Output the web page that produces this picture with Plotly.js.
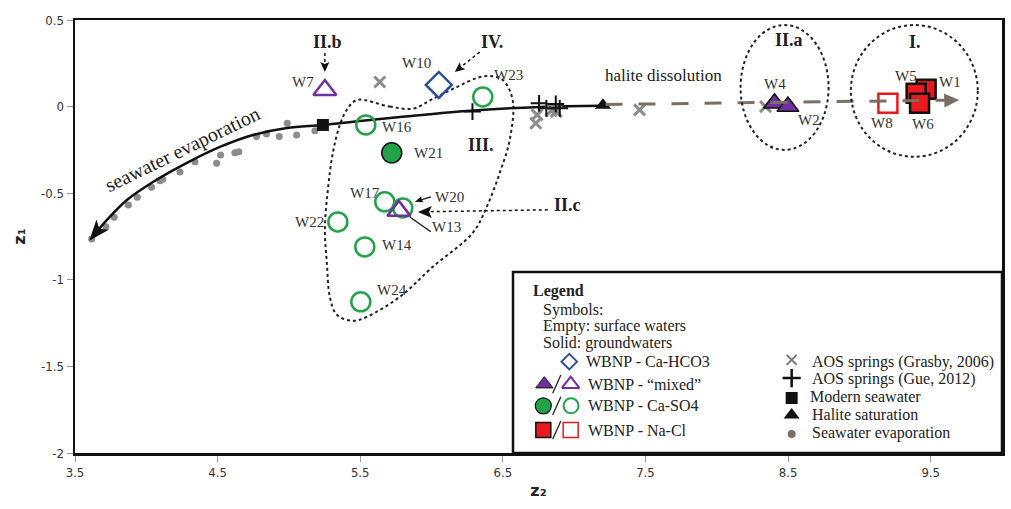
<!DOCTYPE html>
<html><head><meta charset="utf-8">
<script src="https://cdn.plot.ly/plotly-3.0.1.min.js"></script>
<style>html,body{margin:0;padding:0;background:#fff}</style>
</head><body><div id="chart" style="width:1011px;height:509px"></div>
<script>
// ---------- axis ticks ----------
const xTickVals = [3.5, 4.5, 5.5, 6.5, 7.5, 8.5, 9.5];
const xTickText = ['3.5', '4.5', '5.5', '6.5', '7.5', '8.5', '9.5'];
const yTickVals = [-2, -1.5, -1, -0.5, 0, 0.5];
const yTickText = ['-2', '-1.5', '-1', '-0.5', '0', '0.5'];

// ---------- reference series ----------
const evapDotsZ2 = [3.617, 3.717, 3.775, 3.874, 3.937, 4.037, 4.096, 4.115, 4.236, 4.341, 4.493, 4.521, 4.621, 4.649, 4.773, 4.843, 4.932, 4.988, 5.054, 5.182];
const evapDotsZ1 = [-0.765, -0.693, -0.639, -0.568, -0.523, -0.466, -0.428, -0.419, -0.377, -0.318, -0.327, -0.279, -0.266, -0.26, -0.173, -0.158, -0.173, -0.096, -0.164, -0.139];

const trendZ2 = [7.2, 6.759, 6.247, 5.778, 5.497, 5.238, 4.986, 4.747, 4.516, 4.285, 4.047, 3.864, 3.724, 3.65];
const trendZ1 = [0.005, -0.002, -0.025, -0.06, -0.083, -0.106, -0.123, -0.164, -0.233, -0.325, -0.435, -0.539, -0.654, -0.725];

const halDissZ2 = [7.22, 9.6];
const halDissZ1 = [0.012, 0.037];

const seawaterZ2 = [5.238];
const seawaterZ1 = [-0.106];
const haliteSatZ2 = [7.202];
const haliteSatZ1 = [0.008];

const grasbyZ2 = [5.637, 6.74, 6.731, 6.84, 6.875, 7.459, 8.342];
const grasbyZ1 = [0.142, -0.048, -0.096, -0.023, -0.029, -0.019, 0.0];
const gueZ2 = [6.287, 6.754, 6.805, 6.871, 6.899];
const gueZ1 = [-0.029, 0.019, -0.01, 0.015, -0.01];

// ---------- WBNP samples ----------
const caHCO3SurfNames = ['W10'];
const caHCO3SurfZ2 = [6.051];
const caHCO3SurfZ1 = [0.125];

const mixedSurfNames = ['W7', 'W13'];
const mixedSurfZ2 = [5.252, 5.771];
const mixedSurfZ1 = [0.096, -0.602];

const mixedGwNames = ['W4', 'W2'];
const mixedGwZ2 = [8.405, 8.499];
const mixedGwZ1 = [0.019, 0.0];

const caSO4SurfNames = ['W16', 'W17', 'W20', 'W22', 'W14', 'W24', 'W23'];
const caSO4SurfZ2 = [5.539, 5.672, 5.798, 5.343, 5.532, 5.504, 6.359];
const caSO4SurfZ1 = [-0.106, -0.55, -0.585, -0.666, -0.81, -1.127, 0.056];

const caSO4GwNames = ['W21'];
const caSO4GwZ2 = [5.721];
const caSO4GwZ1 = [-0.267];

const naClGwNames = ['W1', 'W5', 'W6'];
const naClGwZ2 = [9.468, 9.398, 9.422];
const naClGwZ1 = [0.1, 0.077, 0.019];

const naClSurfNames = ['W8'];
const naClSurfZ2 = [9.2];
const naClSurfZ1 = [0.019];

// ---------- group outline III (annotation geometry, data units) ----------
const groupIIIZ2 = [5.476, 5.707, 5.869, 6.009, 6.177, 6.317, 6.408, 6.499, 6.569, 6.548, 6.478, 6.387, 6.289, 6.009, 5.778, 5.546, 5.448, 5.336, 5.287, 5.266, 5.252, 5.273, 5.308, 5.357, 5.406, 5.476];
const groupIIIZ1 = [0.038, 0.0, -0.012, 0.045, 0.113, 0.165, 0.177, 0.154, 0.038, -0.192, -0.383, -0.579, -0.729, -0.925, -1.098, -1.214, -1.237, -1.202, -1.098, -0.902, -0.712, -0.481, -0.267, -0.106, -0.019, 0.038];

// ---------- styles ----------
const PURPLE = '#7030a0', GREEN = '#22a34a', RED = '#e8191f', BLUE = '#2a4f9a';
const TAUPE = '#7a7062', GREY = '#8c8c8c';
const SERIF = 'Liberation Serif, Times New Roman, serif';
const TICKFONT = 'Liberation Sans Narrow, DejaVu Sans Condensed, Arial Narrow, sans-serif';
const TITLEFONT = 'DejaVu Sans, Liberation Sans, Arial, sans-serif';

const traces = [];
function sc(x, y, marker, extra) {
  marker.opacity = 1;
  return Object.assign({type: 'scatter', mode: 'markers', x: x, y: y, marker: marker,
    hoverinfo: 'skip', showlegend: false, cliponaxis: false}, extra || {});
}
traces.push({type: 'scatter', mode: 'lines', x: groupIIIZ2, y: groupIIIZ1,
  line: {color: '#222', width: 2, dash: 'dot', shape: 'spline', smoothing: 1},
  hoverinfo: 'skip', showlegend: false});
traces.push(sc(evapDotsZ2, evapDotsZ1, {color: GREY, size: 7}));
traces.push({type: 'scatter', mode: 'lines', x: trendZ2, y: trendZ1,
  line: {color: '#111', width: 2.5, shape: 'spline'}, hoverinfo: 'skip', showlegend: false});
traces.push(sc(grasbyZ2, grasbyZ1, {symbol: 'x-thin', size: 11, line: {color: GREY, width: 3}}));
traces.push(sc(gueZ2, gueZ1, {symbol: 'cross-thin', size: 12, line: {color: '#111', width: 2}}));
traces.push(sc(seawaterZ2, seawaterZ1, {symbol: 'square', size: 12, color: '#111'}));
traces.push(sc(haliteSatZ2, haliteSatZ1, {symbol: 'triangle-up', size: 14, color: '#111'}));
traces.push(sc(mixedGwZ2, mixedGwZ1, {symbol: 'triangle-up', size: 19, color: PURPLE, line: {color: '#111', width: 1.5}}));
traces.push(sc(naClSurfZ2, naClSurfZ1, {symbol: 'square-open', size: 19, color: RED, line: {color: RED, width: 2.5}}));
traces.push(sc(naClGwZ2, naClGwZ1, {symbol: 'square', size: 19, color: RED, line: {color: '#111', width: 2.5}}));
traces.push({type: 'scatter', mode: 'lines', x: halDissZ2, y: halDissZ1,
  line: {color: TAUPE, width: 3, dash: '17px,16px'}, hoverinfo: 'skip', showlegend: false});
traces.push(sc(caHCO3SurfZ2, caHCO3SurfZ1, {symbol: 'diamond-open', size: 20, color: BLUE, line: {color: BLUE, width: 2.5}}));
traces.push(sc(caSO4SurfZ2, caSO4SurfZ1, {symbol: 'circle-open', size: 19, color: GREEN, line: {color: GREEN, width: 2.5}}));
traces.push(sc(caSO4GwZ2, caSO4GwZ1, {symbol: 'circle', size: 20, color: GREEN, line: {color: '#111', width: 1.5}}));
traces.push(sc(mixedSurfZ2, mixedSurfZ1, {symbol: 'triangle-up-open', size: 20, color: PURPLE, line: {color: PURPLE, width: 2.5}}));

// ---------- custom legend icons (overlay axes spanning 0..1 of the plot area) ----------
const legIcons = [
  {x: 0.5332, y: 0.211, s: 'diamond-open', c: BLUE, size: 12, lw: 2, lc: BLUE},
  {x: 0.5063, y: 0.159, s: 'triangle-up', c: PURPLE, size: 15, lw: 1, lc: '#111'},
  {x: 0.5347, y: 0.159, s: 'triangle-up-open', c: PURPLE, size: 15, lw: 2, lc: PURPLE},
  {x: 0.5052, y: 0.109, s: 'circle', c: GREEN, size: 16, lw: 1.2, lc: '#111'},
  {x: 0.5351, y: 0.109, s: 'circle-open', c: GREEN, size: 15, lw: 2, lc: GREEN},
  {x: 0.5052, y: 0.053, s: 'square', c: RED, size: 15, lw: 1.5, lc: '#111'},
  {x: 0.5347, y: 0.053, s: 'square-open', c: RED, size: 15, lw: 1.5, lc: RED},
  {x: 0.7731, y: 0.215, s: 'x-thin', c: '#777', size: 10, lw: 2, lc: '#777'},
  {x: 0.7731, y: 0.173, s: 'cross-thin', c: '#111', size: 13, lw: 2.5, lc: '#111'},
  {x: 0.7731, y: 0.127, s: 'square', c: '#111', size: 12, lw: 0, lc: '#111'},
  {x: 0.7731, y: 0.088, s: 'triangle-up', c: '#111', size: 14, lw: 0, lc: '#111'},
  {x: 0.7731, y: 0.044, s: 'circle', c: TAUPE, size: 8, lw: 0, lc: TAUPE}
];
traces.push({type: 'scatter', mode: 'markers', xaxis: 'x2', yaxis: 'y2',
  x: legIcons.map(d => d.x), y: legIcons.map(d => d.y),
  marker: {opacity: 1, symbol: legIcons.map(d => d.s), color: legIcons.map(d => d.c), size: legIcons.map(d => d.size),
    line: {width: legIcons.map(d => d.lw), color: legIcons.map(d => d.lc)}},
  hoverinfo: 'skip', showlegend: false, cliponaxis: false});

// ---------- annotations ----------
const ann = [];
const labelFont = {family: SERIF, size: 15, color: '#333'};
const labelPlace = {
  W7: ['right', -9, 8], W10: ['center', -22, 22], W23: ['left', 9, 22], W16: ['left', 14, -2],
  W21: ['left', 20, 0], W17: ['center', -20, 9], W20: ['left', 30, 11], W13: ['left', 31, -16],
  W22: ['right', -12, 0], W14: ['left', 15, 2], W24: ['left', 14, 12], W4: ['center', 0, 19],
  W2: ['center', 21, -13], W5: ['center', -10, 17], W1: ['center', 24, 7], W6: ['center', 3, -21],
  W8: ['center', -6, -20]
};
function addLabels(names, xs, ys) {
  names.forEach((n, i) => {
    const p = labelPlace[n];
    ann.push({x: xs[i], y: ys[i], text: n, showarrow: false, xanchor: p[0], yanchor: 'middle',
      xshift: p[1], yshift: p[2], font: labelFont});
  });
}
addLabels(caHCO3SurfNames, caHCO3SurfZ2, caHCO3SurfZ1);
addLabels(mixedSurfNames, mixedSurfZ2, mixedSurfZ1);
addLabels(mixedGwNames, mixedGwZ2, mixedGwZ1);
addLabels(caSO4SurfNames, caSO4SurfZ2, caSO4SurfZ1);
addLabels(caSO4GwNames, caSO4GwZ2, caSO4GwZ1);
addLabels(naClGwNames, naClGwZ2, naClGwZ1);
addLabels(naClSurfNames, naClSurfZ2, naClSurfZ1);

const boldFont = {family: SERIF, size: 18, color: '#222', weight: 'bold'};
[['II.b', 5.273, 0.373], ['IV.', 6.422, 0.373], ['III.', 6.345, -0.221],
 ['II.c', 6.955, -0.567], ['II.a', 8.503, 0.385], ['I.', 9.393, 0.373]]
  .forEach(a => ann.push({x: a[1], y: a[2], text: a[0], showarrow: false, font: boldFont}));

ann.push({x: 7.628, y: 0.177, text: 'halite dissolution', showarrow: false, font: {family: SERIF, size: 17, color: '#222'}});
ann.push({x: 4.255, y: -0.25, text: 'seawater evaporation', showarrow: false, textangle: -26,
  font: {family: SERIF, size: 20, color: '#222'}});

// legend texts
const LF = {family: SERIF, size: 16, color: '#222'};
[['Legend', 0.4916, 0.375, true], ['Symbols:', 0.5024, 0.330], ['Empty: surface waters', 0.5024, 0.293],
 ['Solid: groundwaters', 0.5024, 0.255], ['WBNP - Ca-HCO3', 0.5491, 0.211], ['WBNP - \u201Cmixed\u201D', 0.5512, 0.159],
 ['WBNP - Ca-SO4', 0.5512, 0.109], ['WBNP - Na-Cl', 0.5512, 0.053],
 ['AOS springs (Grasby, 2006)', 0.7929, 0.211], ['AOS springs (Gue, 2012)', 0.7929, 0.171],
 ['Modern seawater', 0.7907, 0.130], ['Halite saturation', 0.7929, 0.088], ['Seawater evaporation', 0.7929, 0.047]]
  .forEach(a => ann.push({xref: 'paper', yref: 'paper', x: a[1], y: a[2], text: a[0], showarrow: false,
    xanchor: 'left', yanchor: 'middle', font: Object.assign({}, LF, a[3] ? {weight: 'bold'} : {})}));

// ---------- shapes ----------
const shapes = [
  {type: 'rect', xref: 'paper', yref: 'paper', x0: 0.4725, x1: 1.0, y0: 0.0, y1: 0.418,
   line: {color: '#111', width: 2.5}, fillcolor: '#fff', layer: 'below'},
  {type: 'circle', xref: 'x', yref: 'y', x0: 8.167, x1: 8.784, y0: -0.25, y1: 0.471,
   line: {color: '#222', width: 2, dash: 'dot'}},
  {type: 'circle', xref: 'x', yref: 'y', x0: 8.94, x1: 9.83, y0: -0.29, y1: 0.471,
   line: {color: '#222', width: 2, dash: 'dot'}},
  {type: 'line', xref: 'x', yref: 'y', x0: 5.252, y0: 0.31, x1: 5.252, y1: 0.225, line: {color: '#111', width: 1.5, dash: 'dot'}},
  {type: 'line', xref: 'x', yref: 'y', x0: 6.338, y0: 0.315, x1: 6.2, y1: 0.225, line: {color: '#111', width: 1.5, dash: 'dot'}},
  {type: 'line', xref: 'x', yref: 'y', x0: 6.815, y0: -0.596, x1: 5.96, y1: -0.607, line: {color: '#111', width: 1.5, dash: 'dot'}},
  {type: 'line', xref: 'x', yref: 'y', x0: 5.848, y0: -0.637, x1: 5.995, y1: -0.723, line: {color: '#111', width: 1.2}},
  {type: 'line', xref: 'x', yref: 'y', x0: 5.995, y0: -0.521, x1: 5.91, y1: -0.543, line: {color: '#111', width: 1.2}}
];
[0.159, 0.109, 0.053].forEach(y => shapes.push({type: 'line', xref: 'paper', yref: 'paper',
  x0: 0.5153, x1: 0.5241, y0: y - 0.021, y1: y + 0.021, line: {color: '#222', width: 1.3}}));

// arrow heads as pixel-sized paths anchored at the tip (dir: tail->tip, screen px, y up)
function head(x, y, dx, dy, len, half, notch, color) {
  const n = Math.hypot(dx, dy), ux = dx / n, uy = dy / n, px = -uy, py = ux;
  const bx = -ux * len, by = -uy * len;
  const p1 = [bx + px * half, by + py * half], p2 = [bx - px * half, by - py * half];
  const nn = [bx + ux * len * notch, by + uy * len * notch];
  const f = v => v.toFixed(2);
  shapes.push({type: 'path', xref: 'x', yref: 'y', xsizemode: 'pixel', ysizemode: 'pixel',
    xanchor: x, yanchor: y,
    path: `M0,0 L${f(p1[0])},${f(p1[1])} L${f(nn[0])},${f(nn[1])} L${f(p2[0])},${f(p2[1])} Z`,
    fillcolor: color || '#111', line: {width: 0}});
}
head(3.6, -0.775, -19, -23, 21, 8, 0.25);
head(9.70, 0.038, 1, 0.03, 15, 7, 0, TAUPE);
head(5.252, 0.2, 0, -1, 10, 4.5, 0.2);
head(6.163, 0.2, -25, -20, 10, 4.5, 0.2);
head(5.904, -0.608, -1, 0, 14, 6, 0.2);
head(5.883, -0.550, -17, -6, 8, 3.2, 0.1);

const layout = {
  width: 1011, height: 509,
  margin: {l: 75, r: 9, t: 20, b: 56},
  paper_bgcolor: '#fff', plot_bgcolor: '#fff',
  showlegend: false,
  xaxis: {range: [3.5, 10], tickvals: xTickVals, ticktext: xTickText, showgrid: false, zeroline: false,
    showline: true, linecolor: '#111', linewidth: 2.5, mirror: true, ticks: 'outside', ticklen: 6,
    tickcolor: '#999', tickwidth: 1, tickfont: {family: TICKFONT, size: 13, color: '#333'},
    title: {text: 'z\u2082', font: {family: TITLEFONT, size: 16, color: '#222', weight: 'bold'}, standoff: 6},
    automargin: false, fixedrange: true},
  yaxis: {range: [-2, 0.5], tickvals: yTickVals, ticktext: yTickText, showgrid: false, zeroline: false,
    showline: true, linecolor: '#111', linewidth: 2.5, mirror: true, ticks: 'outside', ticklen: 6,
    tickcolor: '#999', tickwidth: 1, tickfont: {family: TICKFONT, size: 13, color: '#333'},
    title: {text: 'z\u2081', font: {family: TITLEFONT, size: 16, color: '#222', weight: 'bold'}, standoff: 12},
    automargin: false, fixedrange: true},
  xaxis2: {overlaying: 'x', range: [0, 1], visible: false, fixedrange: true},
  yaxis2: {overlaying: 'y', range: [0, 1], visible: false, fixedrange: true},
  annotations: ann,
  shapes: shapes
};

Plotly.newPlot('chart', traces, layout, {displayModeBar: false, staticPlot: true});
</script>
</body></html>
